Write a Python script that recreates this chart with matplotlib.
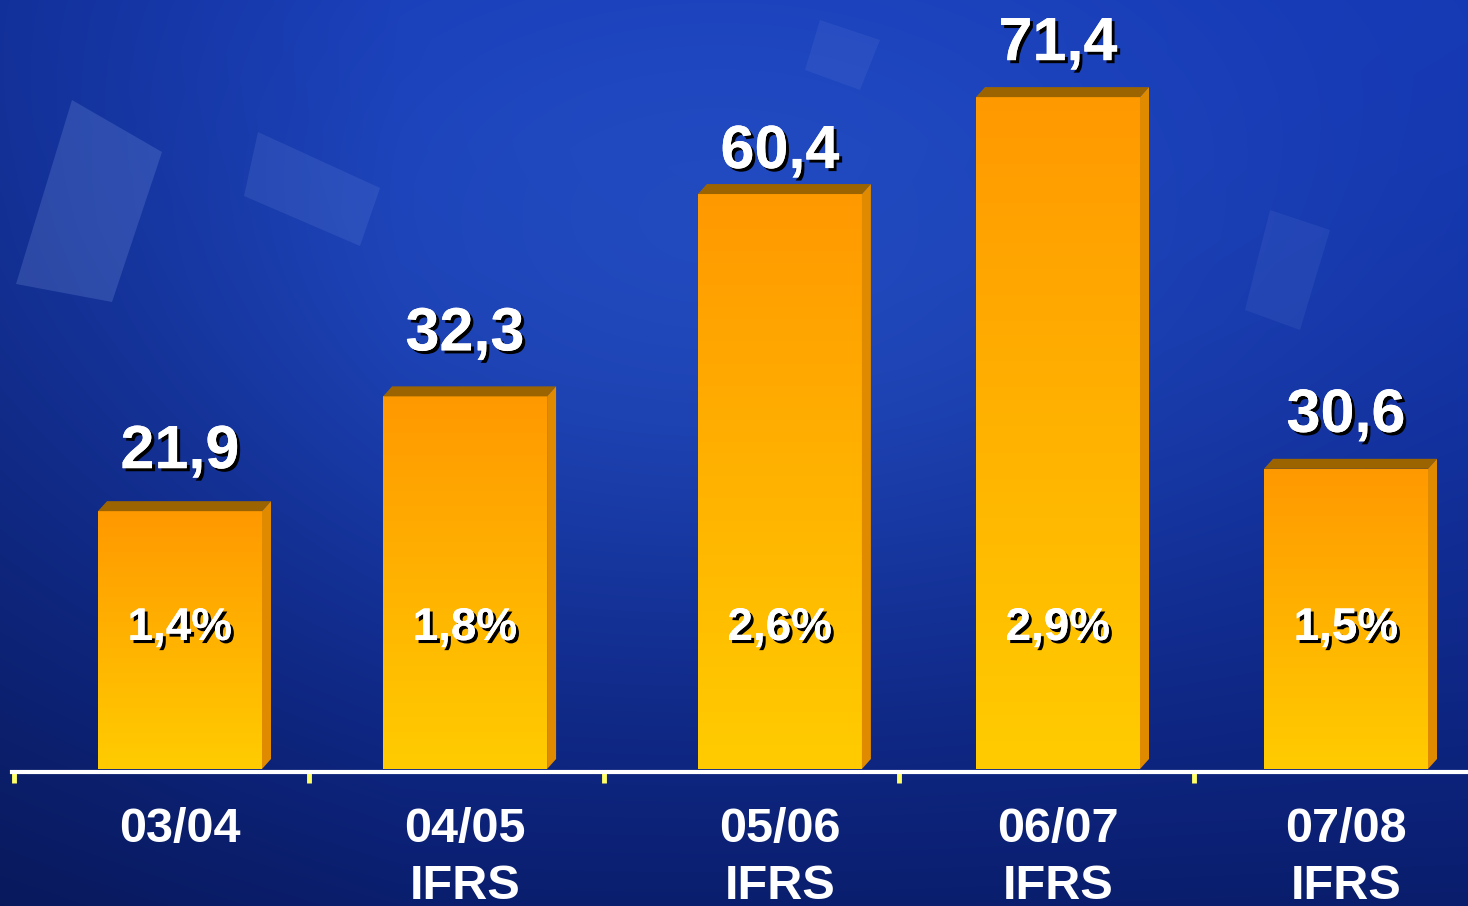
import matplotlib
matplotlib.use("Agg")
import matplotlib.pyplot as plt
import matplotlib.patheffects as pe
from matplotlib.colors import LinearSegmentedColormap, to_rgb
from matplotlib.patches import Polygon
import numpy as np

# ============================================================
# data
# ============================================================
categories = ["03/04", "04/05\nIFRS", "05/06\nIFRS", "06/07\nIFRS", "07/08\nIFRS"]
values = ["21,9", "32,3", "60,4", "71,4", "30,6"]
shares = ["1,4%", "1,8%", "2,6%", "2,9%", "1,5%"]
# drawn bar heights as on the source slide (not to scale with the labels)
bar_heights = [27.4, 39.6, 61.1, 71.4, 31.9]

# ============================================================
# layout
# ============================================================
W, H = 1468, 906
PX_X = 291.5            # px per category unit
PX_Y = 9.41             # px per value unit
X0_PX, BASE_PX = 180, 769

bar_x = np.array([0.0, 0.978, 2.058, 3.012, 4.0])
bar_w = 0.5626
dx, dy = 9 / PX_X, 10 / PX_Y
value_gap = [33, 36, 16, 27, 27]      # px between top face and label baseline
tick_x = -0.569 + 1.012 * np.arange(5)

FONT = "Liberation Sans"
shadow = [pe.withSimplePatchShadow(offset=(2.2, -2.2), shadow_rgbFace="black", alpha=1.0),
          pe.Normal()]

fig = plt.figure(figsize=(W / 100, H / 100), dpi=100)

# ------------------------------------------------------------
# background
# ------------------------------------------------------------
bg = fig.add_axes([0, 0, 1, 1])
yy, xx = np.mgrid[0:H, 0:W]
top, bottom = np.array(to_rgb("#1436b2")), np.array(to_rgb("#0a1d6c"))
t = (yy / H) ** 1.4
img = top * (1 - t[..., None]) + bottom * t[..., None]
glow = np.exp(-(((xx - 720) / 600) ** 2 + ((yy - 250) / 360) ** 2))
img = img + glow[..., None] * (np.array(to_rgb("#3468dc")) - img) * 0.45
left_dark = np.clip(1 - xx / 400, 0, 1) * 0.15
img = img * (1 - left_dark[..., None])
bg.imshow(np.clip(img, 0, 1), extent=[0, W, H, 0], aspect="auto")
for pts, a in [
    ([(72, 100), (162, 152), (112, 302), (16, 284)], 0.22),
    ([(258, 132), (380, 188), (360, 246), (244, 196)], 0.14),
    ([(820, 20), (880, 40), (860, 90), (805, 70)], 0.10),
    ([(1270, 210), (1330, 230), (1300, 330), (1245, 310)], 0.10),
]:
    bg.add_patch(Polygon(pts, closed=True, facecolor="#8aa6e8", edgecolor="none", alpha=a))
bg.set_xlim(0, W)
bg.set_ylim(H, 0)
bg.axis("off")

# ------------------------------------------------------------
# chart
# ------------------------------------------------------------
ax = fig.add_axes([0, 0, 1, 1])
ax.patch.set_alpha(0)
xlim = (-X0_PX / PX_X, (W - X0_PX) / PX_X)
ylim = (-(H - BASE_PX) / PX_Y, BASE_PX / PX_Y)

cmap = LinearSegmentedColormap.from_list("bar", ["#ffcc00", "#ff9900"])
grad = np.linspace(0, 1, 256).reshape(-1, 1)

bars = ax.bar(bar_x, bar_heights, bar_w, color="none", edgecolor="none", zorder=3)
for b, h in zip(bars, bar_heights):
    x0 = b.get_x()
    x1 = x0 + b.get_width()
    im = ax.imshow(grad, extent=[x0, x1, 0, h], origin="lower", cmap=cmap,
                   aspect="auto", zorder=3)
    im.set_clip_path(b)
    ax.add_patch(Polygon([(x0, h), (x1, h), (x1 + dx, h + dy), (x0 + dx, h + dy)],
                         closed=True, facecolor="#9c6400", edgecolor="none", zorder=3))
    ax.add_patch(Polygon([(x1, 0), (x1 + dx, dy), (x1 + dx, h + dy), (x1, h)],
                         closed=True, facecolor="#e08a00", edgecolor="none", zorder=3))

# value labels above bars, share labels inside bars
for x, h, v, s, g in zip(bar_x, bar_heights, values, shares, value_gap):
    ax.text(x, h + dy + g / PX_Y, v, ha="center", va="baseline", fontsize=44,
            fontweight="bold", family=FONT, color="white", path_effects=shadow, zorder=5)
    ax.text(x, -(640 - BASE_PX) / PX_Y, s, ha="center", va="baseline", fontsize=33,
            fontweight="bold", family=FONT, color="white", path_effects=shadow, zorder=5)

# category labels (two lines)
for x, c in zip(bar_x, categories):
    for k, line in enumerate(c.split("\n")):
        ax.text(x, -(842 + 57 * k - BASE_PX) / PX_Y, line, ha="center", va="baseline",
                fontsize=35, fontweight="bold", family=FONT, color="white", zorder=5)

# axis line and ticks
for side in ["top", "right", "left"]:
    ax.spines[side].set_visible(False)
ax.spines["bottom"].set_position(("data", -2.5 / PX_Y))
ax.spines["bottom"].set_bounds(-(X0_PX - 12) / PX_X, xlim[1])
ax.spines["bottom"].set_color("white")
ax.spines["bottom"].set_linewidth(3.0)
ax.spines["bottom"].set_zorder(4)
ax.set_xticks(tick_x)
ax.set_xticklabels([])
ax.tick_params(axis="x", direction="out", length=8, width=3.5, color="#ffff66")
ax.set_yticks([])
ax.set_xlim(*xlim)
ax.set_ylim(*ylim)

fig.savefig("out.png", dpi=100)
